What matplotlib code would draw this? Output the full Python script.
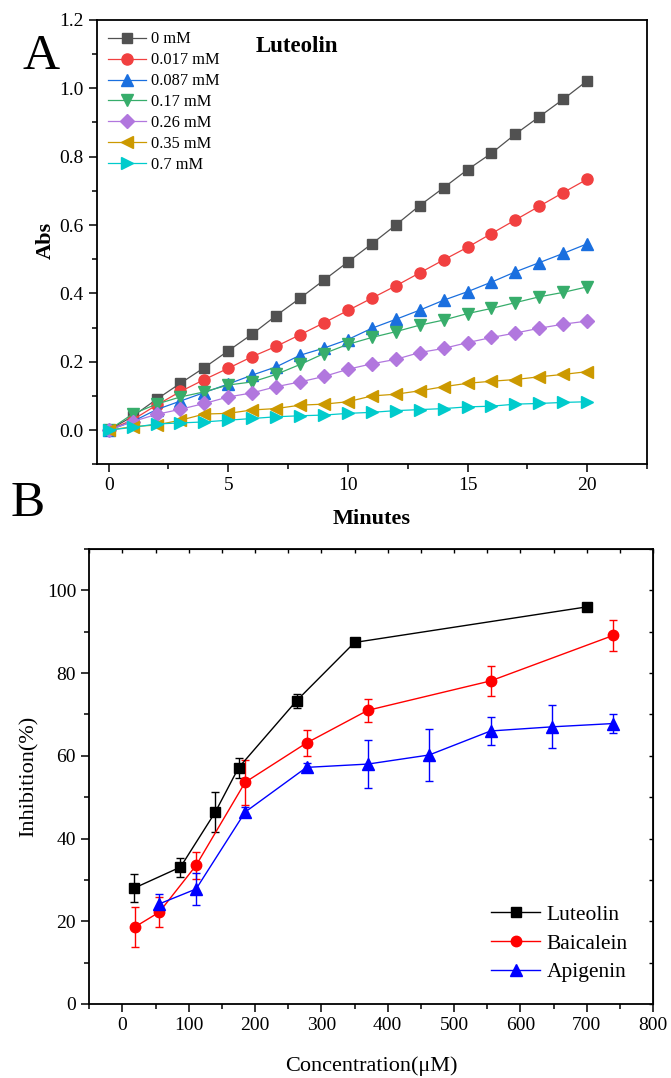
import numpy as np
import matplotlib
matplotlib.use("Agg")
import matplotlib.pyplot as plt
from matplotlib.ticker import MultipleLocator

plt.rcParams["font.family"] = ["Liberation Serif", "DejaVu Serif"]

# ---- panel A: absorbance vs time, luteolin concentrations
minutes = np.arange(0, 21)
conc_labels = ["0 mM", "0.017 mM", "0.087 mM", "0.17 mM", "0.26 mM", "0.35 mM", "0.7 mM"]
abs_0 = [0, 0.04, 0.09, 0.137, 0.183, 0.232, 0.281, 0.335, 0.386, 0.439, 0.492,
         0.545, 0.600, 0.657, 0.709, 0.762, 0.810, 0.866, 0.917, 0.968, 1.022]
abs_017 = [0, 0.03, 0.073, 0.113, 0.148, 0.181, 0.215, 0.245, 0.279, 0.314, 0.350,
           0.386, 0.422, 0.460, 0.498, 0.535, 0.575, 0.615, 0.655, 0.695, 0.734]
abs_087 = [0, 0.025, 0.06, 0.085, 0.11, 0.135, 0.161, 0.185, 0.219, 0.240, 0.265,
           0.298, 0.324, 0.351, 0.380, 0.405, 0.433, 0.463, 0.490, 0.517, 0.545]
abs_17 = [0, 0.047, 0.076, 0.097, 0.112, 0.132, 0.141, 0.163, 0.192, 0.224, 0.251,
          0.271, 0.288, 0.307, 0.322, 0.341, 0.356, 0.373, 0.390, 0.403, 0.419]
abs_26 = [0, 0.025, 0.046, 0.061, 0.078, 0.097, 0.109, 0.127, 0.141, 0.157, 0.178,
          0.194, 0.207, 0.227, 0.239, 0.256, 0.271, 0.284, 0.298, 0.310, 0.319]
abs_35 = [0, 0.01, 0.015, 0.029, 0.047, 0.049, 0.059, 0.063, 0.073, 0.076, 0.083,
          0.100, 0.105, 0.115, 0.127, 0.137, 0.143, 0.148, 0.156, 0.163, 0.171]
abs_7 = [0, 0.008, 0.018, 0.021, 0.024, 0.029, 0.034, 0.039, 0.042, 0.044, 0.049,
         0.052, 0.057, 0.060, 0.063, 0.068, 0.070, 0.076, 0.078, 0.081, 0.083]
abs_series = [abs_0, abs_017, abs_087, abs_17, abs_26, abs_35, abs_7]
colors_a = ["#515151", "#F14040", "#1A6FDF", "#37AD6B", "#B177DE", "#CC9900", "#00CBCC"]
markers_a = ["s", "o", "^", "v", "D", "<", ">"]

# ---- panel B: inhibition vs concentration
lut_x = [17.5, 87.5, 140, 175, 262.5, 350, 700]
lut_y = [28.0, 33.1, 46.4, 57.1, 73.3, 87.4, 96.0]
lut_err = [3.4, 2.3, 4.9, 2.4, 1.7, 0.6, 0.4]
bai_x = [18.5, 55.5, 111, 185, 277.5, 370, 555, 740]
bai_y = [18.6, 22.2, 33.5, 53.6, 63.1, 71.0, 78.1, 89.1]
bai_err = [4.9, 3.6, 3.2, 5.5, 3.2, 2.8, 3.6, 3.7]
api_x = [55.5, 111, 185, 277.5, 370, 462.5, 555, 647.5, 740]
api_y = [24.2, 27.8, 46.4, 57.2, 58.0, 60.2, 66.0, 67.0, 67.8]
api_err = [2.4, 3.8, 1.2, 1.0, 5.7, 6.3, 3.3, 5.2, 2.3]

fig = plt.figure(figsize=(6.71, 10.78), dpi=100)

# ---------------- A
axA = fig.add_axes([0.1441, 0.5693, 0.8201, 0.4122])
for ys, lab, c, m in zip(abs_series, conc_labels, colors_a, markers_a):
    ms = 6.8 if m in ("s", "D") else 8
    axA.plot(minutes, ys, color=c, lw=0.9, marker=m, ms=ms, mec=c, mfc=c, label=lab)
axA.set_xlim(-0.5, 22.5)
axA.set_ylim(-0.1, 1.2)
axA.xaxis.set_major_locator(MultipleLocator(5))
axA.xaxis.set_minor_locator(MultipleLocator(2.5))
axA.yaxis.set_major_locator(MultipleLocator(0.2))
axA.yaxis.set_minor_locator(MultipleLocator(0.1))
axA.yaxis.set_major_formatter(matplotlib.ticker.FormatStrFormatter("%.1f"))
axA.tick_params(which="major", direction="out", length=6, width=1.1, labelsize=14)
axA.tick_params(which="minor", direction="out", length=3.5, width=1.1)
for s in axA.spines.values():
    s.set_linewidth(1.3)
axA.set_xlabel("Minutes", fontsize=16, fontweight="bold")
axA.set_ylabel("Abs", fontsize=16, fontweight="bold")
axA.xaxis.set_label_coords(0.5, -0.1)
axA.yaxis.set_label_coords(-0.075, 0.503)
axA.text(0.288, 0.94, "Luteolin", transform=axA.transAxes, fontsize=16.5,
         fontweight="bold", ha="left", va="center")
axA.legend(loc="upper left", bbox_to_anchor=(0.0, 1.0), frameon=False, fontsize=11.8,
           handlelength=2.3, labelspacing=0.3, handletextpad=0.3, borderaxespad=0.3)
fig.text(0.034, 0.947, "A", fontsize=37, ha="left", va="center")

# ---------------- B
axB = fig.add_axes([0.1331, 0.06865, 0.8401, 0.4221])
for xs, ys, es, lab, c, m, ms in [
        (lut_x, lut_y, lut_err, "Luteolin", "black", "s", 6.5),
        (bai_x, bai_y, bai_err, "Baicalein", "red", "o", 7.5),
        (api_x, api_y, api_err, "Apigenin", "blue", "^", 8)]:
    axB.errorbar(xs, ys, yerr=es, color=c, lw=1.0, marker=m, ms=ms, mec=c, mfc=c,
                 capsize=3, elinewidth=1.0, capthick=1.0, label=lab)
axB.set_xlim(-50, 800)
axB.set_ylim(0, 110)
axB.xaxis.set_major_locator(MultipleLocator(100))
axB.xaxis.set_minor_locator(MultipleLocator(50))
axB.yaxis.set_major_locator(MultipleLocator(20))
axB.yaxis.set_minor_locator(MultipleLocator(10))
axB.tick_params(which="major", direction="out", length=6, width=1.1, labelsize=14)
axB.tick_params(which="minor", direction="out", length=3.5, width=1.1)
for s in axB.spines.values():
    s.set_linewidth(1.3)
topB = axB.secondary_xaxis("top")
topB.xaxis.set_major_locator(MultipleLocator(50))
topB.tick_params(direction="in", length=3, width=1.0, labeltop=False)
rightB = axB.secondary_yaxis("right")
rightB.yaxis.set_major_locator(MultipleLocator(10))
rightB.tick_params(direction="in", length=3, width=1.0, labelright=False)
axB.set_xlabel("Concentration(μM)", fontsize=16)
axB.set_ylabel("Inhibition(%)", fontsize=16)
axB.xaxis.set_label_coords(0.5, -0.114)
axB.yaxis.set_label_coords(-0.09, 0.5)
handles, labels = axB.get_legend_handles_labels()
handles = [h[0] for h in handles]
axB.legend(handles, labels, loc="lower right", frameon=False, fontsize=15.5,
           handlelength=2.3, labelspacing=0.4, handletextpad=0.3,
           bbox_to_anchor=(0.99, 0.005))
fig.text(0.015, 0.5325, "B", fontsize=37, ha="left", va="center")

fig.savefig("out.png", dpi=100)
